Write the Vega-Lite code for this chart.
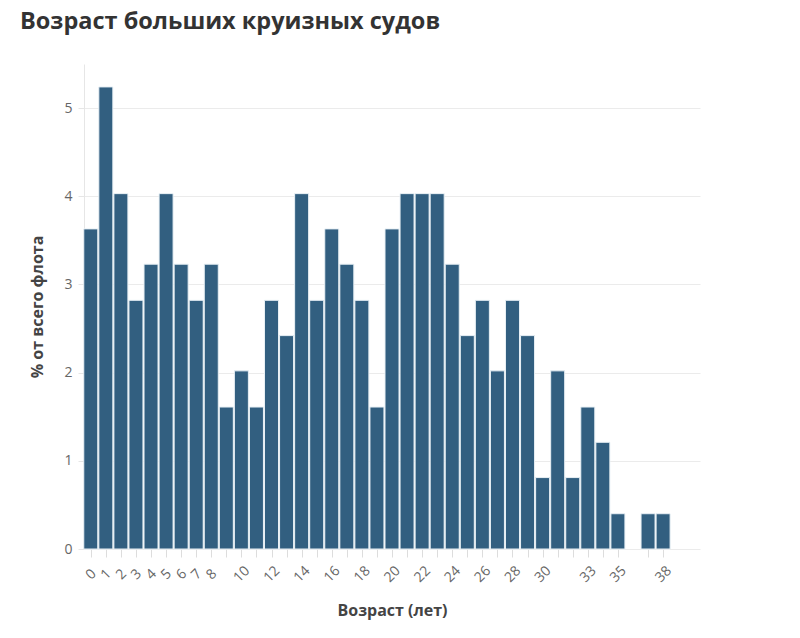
{
  "$schema": "https://vega.github.io/schema/vega-lite/v6.json",
  "width": 616,
  "height": 485,
  "autosize": {"type": "none"},
  "padding": {"left": 84, "top": 64, "right": 100, "bottom": 89},
  "background": "white",
  "title": {
    "text": "Возраст больших круизных судов",
    "anchor": "start",
    "frame": "group",
    "dx": -64,
    "offset": 19,
    "baseline": "middle",
    "fontSize": 23.5,
    "fontWeight": "bold",
    "font": "Open Sans",
    "color": "#333333"
  },
  "data": {
    "values": [
      {"age": 0, "pct": 3.63},
      {"age": 1, "pct": 5.24},
      {"age": 2, "pct": 4.03},
      {"age": 3, "pct": 2.82},
      {"age": 4, "pct": 3.23},
      {"age": 5, "pct": 4.03},
      {"age": 6, "pct": 3.23},
      {"age": 7, "pct": 2.82},
      {"age": 8, "pct": 3.23},
      {"age": 9, "pct": 1.61},
      {"age": 10, "pct": 2.02},
      {"age": 11, "pct": 1.61},
      {"age": 12, "pct": 2.82},
      {"age": 13, "pct": 2.42},
      {"age": 14, "pct": 4.03},
      {"age": 15, "pct": 2.82},
      {"age": 16, "pct": 3.63},
      {"age": 17, "pct": 3.23},
      {"age": 18, "pct": 2.82},
      {"age": 19, "pct": 1.61},
      {"age": 20, "pct": 3.63},
      {"age": 21, "pct": 4.03},
      {"age": 22, "pct": 4.03},
      {"age": 23, "pct": 4.03},
      {"age": 24, "pct": 3.23},
      {"age": 25, "pct": 2.42},
      {"age": 26, "pct": 2.82},
      {"age": 27, "pct": 2.02},
      {"age": 28, "pct": 2.82},
      {"age": 29, "pct": 2.42},
      {"age": 30, "pct": 0.81},
      {"age": 31, "pct": 2.02},
      {"age": 32, "pct": 0.81},
      {"age": 33, "pct": 1.61},
      {"age": 34, "pct": 1.21},
      {"age": 35, "pct": 0.4},
      {"age": 37, "pct": 0.4},
      {"age": 38, "pct": 0.4}
    ]
  },
  "mark": {"type": "bar", "size": 14, "color": "#325f80", "stroke": "#e8f0f5", "strokeWidth": 1},
  "encoding": {
    "x": {
      "field": "age",
      "type": "quantitative",
      "scale": {"domain": [-0.45, 40.45], "nice": false, "zero": false, "padding": 0},
      "axis": {
        "title": "Возраст (лет)",
        "values": [0,1,2,3,4,5,6,7,8,9,10,11,12,13,14,15,16,17,18,19,20,21,22,23,24,25,26,27,28,29,30,31,32,33,34,35,37,38],
        "labelExpr": "indexof([0,1,2,3,4,5,6,7,8,10,12,14,16,18,20,22,24,26,28,30,33,35,38], datum.value) >= 0 ? datum.label : ''",
        "labelAngle": -45,
        "labelAlign": "center",
        "labelBaseline": "middle",
        "labelPadding": 17,
        "labelOverlap": false,
        "labelFont": "Open Sans",
        "labelFontSize": 14,
        "labelColor": "#666666",
        "grid": false,
        "domain": false,
        "ticks": true,
        "tickColor": "#dddddd",
        "tickSize": 8,
        "tickOffset": 0,
        "titleFont": "Open Sans",
        "titleFontSize": 16,
        "titleFontWeight": "bold",
        "titleColor": "#444444",
        "titlePadding": 18
      }
    },
    "y": {
      "field": "pct",
      "type": "quantitative",
      "scale": {"domain": [0, 5.5], "nice": false},
      "axis": {
        "title": "% от всего флота",
        "values": [0, 1, 2, 3, 4, 5],
        "labelFont": "Open Sans",
        "labelFontSize": 14,
        "labelColor": "#666666",
        "labelPadding": 6,
        "grid": true,
        "gridColor": "#ebebeb",
        "domain": true,
        "domainColor": "#e6e6e6",
        "ticks": true,
        "tickColor": "#e6e6e6",
        "tickSize": 6,
        "titleFont": "Open Sans",
        "titleFontSize": 16,
        "titleFontWeight": "bold",
        "titleColor": "#444444",
        "titlePadding": 18
      }
    }
  },
  "config": {"view": {"stroke": null}}
}
